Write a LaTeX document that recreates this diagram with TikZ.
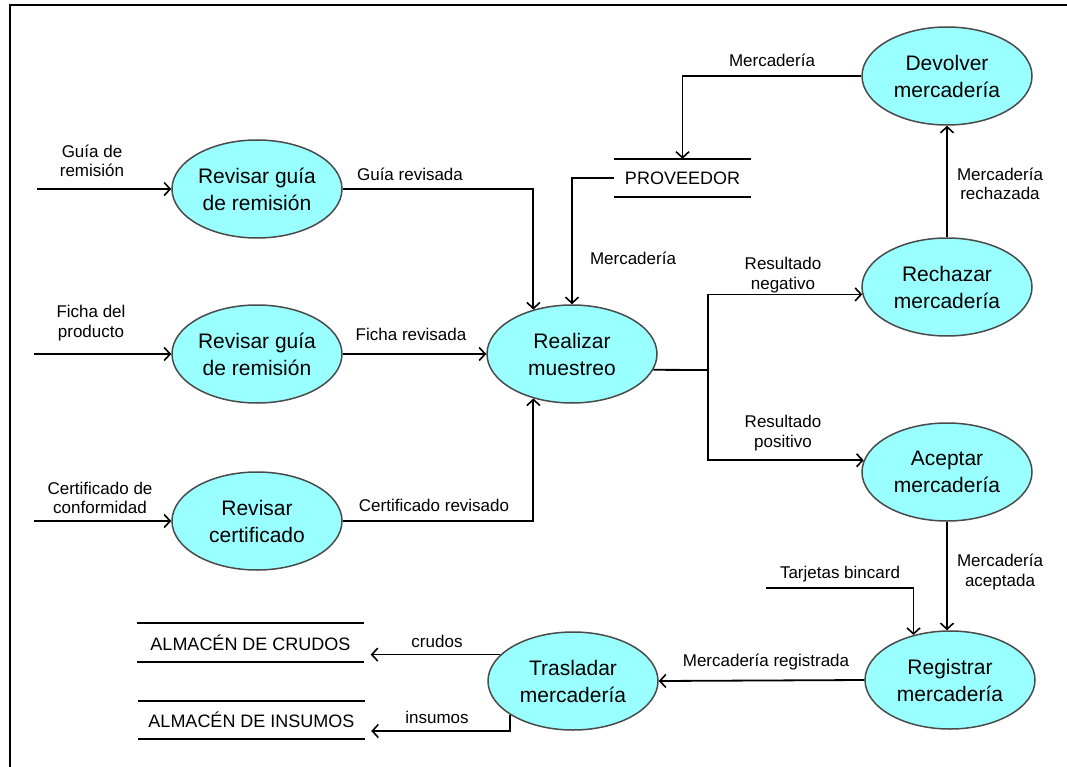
\documentclass[tikz,border=0pt]{standalone}
\usepackage{fontspec}
\setmainfont{Liberation Sans}
\usetikzlibrary{shapes.geometric,arrows.meta,calc}
\definecolor{procfill}{HTML}{99FFFF}
\definecolor{procline}{HTML}{4A4A4A}
\tikzset{
  proc/.style={ellipse, draw=procline, line width=1.5pt, fill=procfill,
    minimum width=170pt, minimum height=98pt, inner sep=0pt, align=center,
    font=\fontsize{21}{27}\selectfont},
  store/.style={minimum width=226pt, minimum height=38pt, inner sep=0pt,
    font=\fontsize{18}{20}\selectfont},
  lbl/.style={align=center, inner sep=0pt, font=\fontsize{17}{19.5}\selectfont},
  flow/.style={line width=1.8pt, -{Straight Barb[length=6pt,width=13pt,line width=1.6pt]}},
  plain/.style={line width=1.8pt},
  storeline/.style={line width=2pt}
}
\begin{document}
\begin{tikzpicture}[x=1pt,y=-1pt]
\useasboundingbox (0,0) rectangle (1067,767);
% frame
\draw[line width=2pt] (1067,5) -- (10,5) -- (10,767);

% processes
\node[proc] (g1)   at (257,189) {Revisar guía\\de remisión};
\node[proc] (g2)   at (257,354) {Revisar guía\\de remisión};
\node[proc] (cert) at (257,521) {Revisar\\certificado};
\node[proc] (mues) at (572,354) {Realizar\\muestreo};
\node[proc] (dev)  at (947,76)  {Devolver\\mercadería};
\node[proc] (rech) at (947,287) {Rechazar\\mercadería};
\node[proc] (acep) at (947,472) {Aceptar\\mercadería};
\node[proc] (reg)  at (950,680) {Registrar\\mercadería};
\node[proc] (tras) at (573,681) {Trasladar\\mercadería};

% data stores
\node[store, minimum width=137pt] (prov) at (682.5,178) {PROVEEDOR};
\node[store] (alm1) at (250.5,642.5) {ALMACÉN DE CRUDOS};
\node[store, minimum width=227pt] (alm2) at (251.5,720) {ALMACÉN DE INSUMOS};
\foreach \s in {prov,alm1,alm2}{
  \draw[storeline] (\s.north west) -- (\s.north east);
  \draw[storeline] (\s.south west) -- (\s.south east);
}

% external inputs
\coordinate (in1) at (37,189);
\coordinate (in2) at (34,354);
\coordinate (in3) at (34,521);
\coordinate (inTar) at (766,588);
\coordinate (split) at (708,370);

\draw[flow] (in1) -- (g1.west);
\draw[flow] (in2) -- (g2.west);
\draw[flow] (in3) -- (cert.west);

% flows into the sampling
\draw[flow] (g1.east) -| (mues.131);
\draw[flow] (g2.east) -- (mues.west);
\draw[flow] (cert.east) -| (mues.229);
\draw[flow] (prov.west) -| (mues.north);

% sampling result
\draw[plain] (mues.-11) -- (split);
\draw[flow] (split) |- (rech.185);
\draw[flow] (split) |- (acep.172);

% rejection loop
\draw[flow] (rech.north) -- (dev.south);
\draw[flow] (dev.west) -| (prov.north);

% acceptance and registration
\draw[flow] (acep.south) -- (acep.south |- reg.north);
\draw[flow] (inTar) -| (reg.129);
\draw[flow] (reg.west) -- (tras.east);

% transfer to warehouses
\draw[flow, shorten >=7pt] (tras.160) -- (tras.160 -| alm1.east);
\draw[flow] (tras.208) |- ($(alm2.east)+(6,11)$);

% labels
\node[lbl] at (92,161) {Guía de\\remisión};
\node[lbl] at (410,174) {Guía revisada};
\node[lbl] at (91,323) {Ficha del\\producto};
\node[lbl] at (411,334) {Ficha revisada};
\node[lbl] at (100,498) {Certificado de\\conformidad};
\node[lbl] at (434,505) {Certificado revisado};
\node[lbl] at (772,60) {Mercadería};
\node[lbl] at (633,258) {Mercadería};
\node[lbl] at (1000,184) {Mercadería\\rechazada};
\node[lbl] at (783,275) {Resultado\\negativo};
\node[lbl] at (783,433) {Resultado\\positivo};
\node[lbl] at (1000,572) {Mercadería\\aceptada};
\node[lbl] at (840,574) {Tarjetas bincard};
\node[lbl] at (766,662) {Mercadería registrada};
\node[lbl] at (437,641) {crudos};
\node[lbl] at (437,717) {insumos};
\end{tikzpicture}
\end{document}
